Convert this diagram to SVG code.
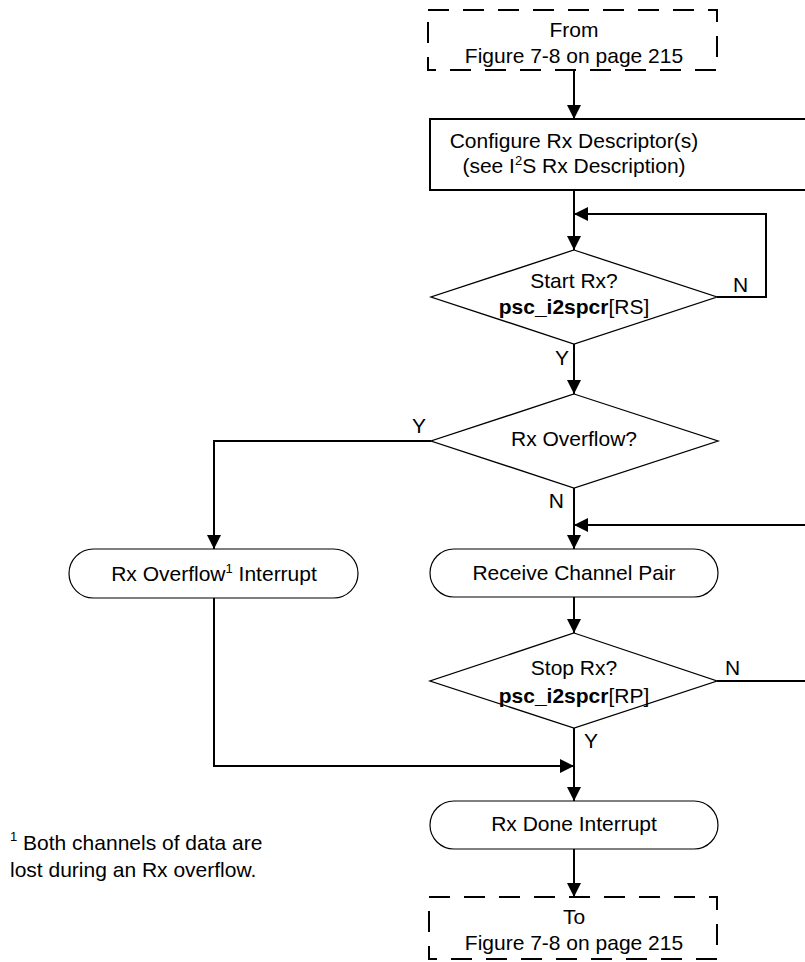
<svg xmlns="http://www.w3.org/2000/svg" width="805" height="962" viewBox="0 0 805 962">
  <style>
    text { font-family: "Liberation Sans", Arial, sans-serif; font-size: 21px; fill: #000; }
    .c { text-anchor: middle; }
    .e { text-anchor: end; }
    .b { font-weight: bold; }
    .sup { font-size: 13px; }
    .term { fill: #fff; stroke: #000; stroke-width: 2; stroke-dasharray: 21 14; }
    .proc { fill: #fff; stroke: #000; stroke-width: 2; }
    .dec { fill: #fff; stroke: #000; stroke-width: 1.3; }
    .pill { fill: #fff; stroke: #000; stroke-width: 1.2; }
    .wire { fill: none; stroke: #000; stroke-width: 2; }
  </style>
  <defs>
    <marker id="arrow" viewBox="0 0 14 14" refX="14" refY="7" markerWidth="14" markerHeight="14" markerUnits="userSpaceOnUse" orient="auto">
      <path d="M0,0 L14,7 L0,14 Z" fill="#000"/>
    </marker>
  </defs>

  <!-- connectors -->
  <g id="connectors">
    <path class="wire" d="M574,70 V119" marker-end="url(#arrow)"/>
    <path class="wire" d="M574,190 V250" marker-end="url(#arrow)"/>
    <path class="wire" d="M717,297 H766 V214 H574" marker-end="url(#arrow)"/>
    <path class="wire" d="M574,344 V394" marker-end="url(#arrow)"/>
    <path class="wire" d="M431,441 H214 V549" marker-end="url(#arrow)"/>
    <path class="wire" d="M574,488 V549" marker-end="url(#arrow)"/>
    <path class="wire" d="M806,525 H574" marker-end="url(#arrow)"/>
    <path class="wire" d="M574,597 V633" marker-end="url(#arrow)"/>
    <path class="wire" d="M717,681 H806"/>
    <path class="wire" d="M574,728 V801" marker-end="url(#arrow)"/>
    <path class="wire" d="M214,598 V766 H574" marker-end="url(#arrow)"/>
    <path class="wire" d="M574,849 V897" marker-end="url(#arrow)"/>
    <text x="569" y="365" class="e">Y</text>
    <text x="733" y="292">N</text>
    <text x="426" y="433" class="e">Y</text>
    <text x="564" y="508" class="e">N</text>
    <text x="725" y="675">N</text>
    <text x="584" y="748">Y</text>
  </g>

  <g id="from">
    <rect class="term" x="428" y="10" width="289" height="60"/>
    <text x="574" y="37" class="c">From</text>
    <text x="574" y="63" class="c">Figure 7-8 on page 215</text>
  </g>

  <g id="configure">
    <rect class="proc" x="430" y="119" width="400" height="71"/>
    <text x="574" y="148" class="c">Configure Rx Descriptor(s)</text>
    <text x="574" y="173" class="c">(see I<tspan class="sup" dy="-8">2</tspan><tspan dy="8">S Rx Description)</tspan></text>
  </g>

  <g id="start">
    <polygon class="dec" points="574,250 717,297 574,344 431,297"/>
    <text x="574" y="288" class="c">Start Rx?</text>
    <text x="574" y="314" class="c"><tspan class="b">psc_i2spcr</tspan>[RS]</text>
  </g>

  <g id="overflow-check">
    <polygon class="dec" points="574,394 718,441 574,488 431,441"/>
    <text x="574" y="446" class="c">Rx Overflow?</text>
  </g>

  <g id="overflow-irq">
    <rect class="pill" x="69" y="549" width="289" height="49" rx="24.5"/>
    <text x="214" y="581" class="c">Rx Overflow<tspan class="sup" dy="-8">1</tspan><tspan dy="8"> Interrupt</tspan></text>
  </g>

  <g id="receive">
    <rect class="pill" x="430" y="549" width="288" height="48" rx="24"/>
    <text x="574" y="580" class="c">Receive Channel Pair</text>
  </g>

  <g id="stop">
    <polygon class="dec" points="574,633 717,681 574,728 430,681"/>
    <text x="574" y="675" class="c">Stop Rx?</text>
    <text x="574" y="703" class="c"><tspan class="b">psc_i2spcr</tspan>[RP]</text>
  </g>

  <g id="done">
    <rect class="pill" x="430" y="801" width="288" height="48" rx="24"/>
    <text x="574" y="831" class="c">Rx Done Interrupt</text>
  </g>

  <g id="to">
    <rect class="term" x="429" y="897" width="288" height="62"/>
    <text x="574" y="924" class="c">To</text>
    <text x="574" y="950" class="c">Figure 7-8 on page 215</text>
  </g>

  <g id="footnote">
    <text x="10" y="850"><tspan class="sup" dy="-9">1</tspan><tspan dy="9"> Both channels of data are</tspan></text>
    <text x="10" y="877">lost during an Rx overflow.</text>
  </g>
</svg>
